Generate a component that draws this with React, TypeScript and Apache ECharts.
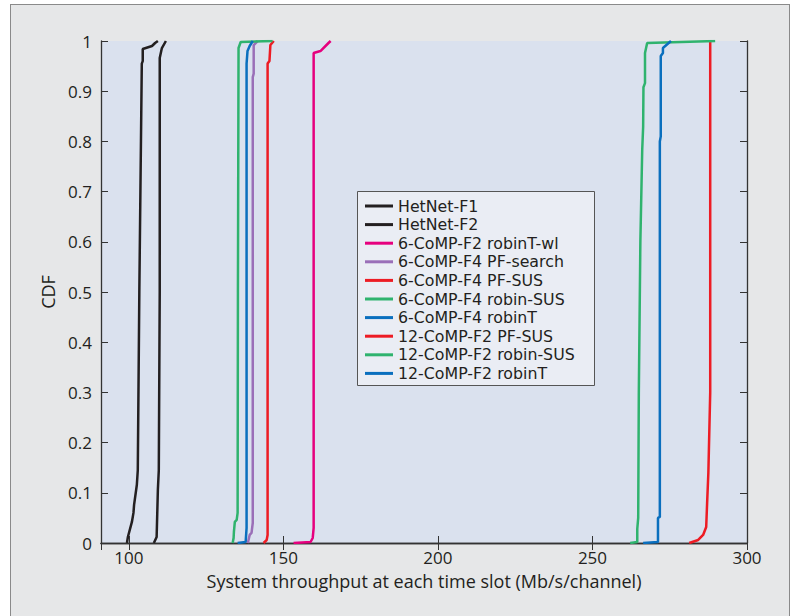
import React, { useEffect, useRef } from "react";
import * as echarts from "echarts";

// ---- Data (x = throughput Mb/s/channel, y = CDF) ----
const hetNetF1: [number, number][] = [
  [99.4, 0], [99.7, 0.012], [101.0, 0.042], [101.5, 0.06], [101.7, 0.076], [102.6, 0.116],
  [102.9, 0.145], [103.4, 0.5], [104.2, 0.955], [104.5, 0.96], [104.5, 0.984], [107.5, 0.99],
  [108.5, 0.996], [109.4, 1],
];
const hetNetF2: [number, number][] = [
  [108.1, 0], [109.0, 0.012], [109.4, 0.106], [109.7, 0.145], [110.0, 0.5], [110.0, 0.966],
  [110.7, 0.986], [112.0, 1],
];
const comp6F2RobinTwl: [number, number][] = [
  [153.3, 0], [158.8, 0.002], [159.5, 0.01], [159.8, 0.03], [159.8, 0.976], [162.0, 0.98],
  [164.6, 0.996], [165.3, 1],
];
const comp6F4PFsearch: [number, number][] = [
  [138.5, 0], [139.1, 0.016], [139.7, 0.02], [140.1, 0.04], [140.1, 0.928], [140.4, 0.935],
  [140.4, 0.992], [141.7, 1],
];
const comp6F4PFSUS: [number, number][] = [
  [143.6, 0], [144.6, 0.006], [144.9, 0.016], [144.9, 0.955], [145.5, 0.96], [145.8, 0.992],
  [146.9, 1],
];
const comp6F4RobinSUS: [number, number][] = [
  [133.6, 0], [133.9, 0.01], [134.0, 0.022], [134.3, 0.042], [134.9, 0.046], [135.2, 0.06],
  [135.3, 0.5], [135.5, 0.986], [136.2, 0.998], [146.5, 1],
];
const comp6F4RobinT: [number, number][] = [
  [135.2, 0], [137.8, 0.002], [138.1, 0.03], [138.1, 0.955], [138.4, 0.98], [139.1, 0.99],
  [140.1, 1],
];
const comp12F2PFSUS: [number, number][] = [
  [281.3, 0], [284.2, 0.006], [285.8, 0.016], [286.8, 0.032], [287.1, 0.08], [287.5, 0.14],
  [288.1, 0.3], [288.1, 1],
];
const comp12F2RobinSUS: [number, number][] = [
  [262.2, 0], [264.5, 0.002], [264.5, 0.028], [264.8, 0.05], [265.0, 0.3], [265.5, 0.6],
  [266.1, 0.783], [266.4, 0.829], [266.5, 0.908], [267.0, 0.916], [267.0, 0.976],
  [267.7, 0.996], [289.7, 1],
];
const comp12F2RobinT: [number, number][] = [
  [266.4, 0], [271.2, 0.002], [271.2, 0.05], [271.8, 0.052], [271.8, 0.8], [272.1, 0.81],
  [272.1, 0.97], [272.8, 0.976], [272.8, 0.986], [275.4, 1],
];

const seriesNames = [
  "HetNet-F1",
  "HetNet-F2",
  "6-CoMP-F2 robinT-wl",
  "6-CoMP-F4 PF-search",
  "6-CoMP-F4 PF-SUS",
  "6-CoMP-F4 robin-SUS",
  "6-CoMP-F4 robinT",
  "12-CoMP-F2 PF-SUS",
  "12-CoMP-F2 robin-SUS",
  "12-CoMP-F2 robinT",
];
const seriesData = [
  hetNetF1, hetNetF2, comp6F2RobinTwl, comp6F4PFsearch, comp6F4PFSUS,
  comp6F4RobinSUS, comp6F4RobinT, comp12F2PFSUS, comp12F2RobinSUS, comp12F2RobinT,
];
const seriesColors = [
  "#231f20", "#231f20", "#e6007e", "#9a6fb8", "#ed1c24",
  "#2fb36e", "#0a6fbe", "#ed1c24", "#2fb36e", "#0a6fbe",
];

const xMin = 91;
const xMax = 300;
const FONT = "Open Sans";
const LEGEND_FONT = "DejaVu Sans";
const TXT = "#231f20";
const AX = "#333333";

export default function App() {
  const ref = useRef<HTMLDivElement>(null);
  useEffect(() => {
    if (!ref.current) return;
    const chart = echarts.init(ref.current, null, { renderer: "svg", width: 803, height: 616 });
    const axisLine = { show: true, lineStyle: { color: AX, width: 1.3 } };
    const tick = { show: true, inside: true, length: 7, lineStyle: { color: AX, width: 1 } };
    chart.setOption({
      animation: false,
      textStyle: { fontFamily: FONT },
      grid: {
        left: 101, right: 56, top: 41, bottom: 73,
        show: true, backgroundColor: "#dae1ee", borderWidth: 0,
      },
      xAxis: [
        {
          type: "value", min: xMin, max: xMax, position: "bottom",
          axisLine, axisTick: tick, splitLine: { show: false },
          axisLabel: { showMinLabel: false, color: TXT, fontSize: 17, fontFamily: FONT, margin: 6 },
          name: "System throughput at each time slot (Mb/s/channel)",
          nameLocation: "middle", nameGap: 29,
          nameTextStyle: { color: TXT, fontSize: 18, fontFamily: FONT },
        },
        {
          type: "value", min: xMin, max: xMax, position: "top",
          axisLine, axisTick: tick, splitLine: { show: false }, axisLabel: { show: false },
        },
      ],
      yAxis: [
        {
          type: "value", min: 0, max: 1, interval: 0.1, position: "left",
          axisLine, axisTick: tick, splitLine: { show: false },
          axisLabel: { color: TXT, fontSize: 17, fontFamily: FONT, margin: 9 },
          name: "CDF", nameLocation: "middle", nameGap: 43,
          nameTextStyle: { color: TXT, fontSize: 18, fontFamily: FONT },
        },
        {
          type: "value", min: 0, max: 1, interval: 0.1, position: "right",
          axisLine, axisTick: tick, splitLine: { show: false }, axisLabel: { show: false },
        },
      ],
      legend: {
        orient: "vertical", left: 365, top: 196.7, padding: 0, itemGap: 0,
        icon: "rect", itemWidth: 28, itemHeight: 3,
        data: seriesNames,
        textStyle: { color: TXT, fontSize: 15.8, fontFamily: LEGEND_FONT, lineHeight: 18.6, padding: [0, 0, 0, 0] },
        z: 5,
      },
      graphic: [
        {
          type: "rect", z: 3,
          shape: { x: 357.5, y: 191.5, width: 237, height: 194 },
          style: { fill: "#eaedf4", stroke: "#555555", lineWidth: 1 },
        },
      ],
      series: seriesNames.map((name, i) => ({
        name, type: "line", data: seriesData[i], xAxisIndex: 0, yAxisIndex: 0,
        symbol: "none", showSymbol: false,
        lineStyle: { color: seriesColors[i], width: 2.5 },
        itemStyle: { color: seriesColors[i] },
        z: 2,
      })),
    });
    return () => chart.dispose();
  }, []);
  return (
    <div style={{ position: "fixed", left: 0, top: 0, width: 803, height: 616, background: "#ffffff", overflow: "hidden" }}>
      <div style={{ position: "absolute", left: 10, top: 4, width: 780, height: 660, background: "#e6e7e8", border: "1.5px solid #8a8a8a", boxSizing: "border-box" }} />
      <div ref={ref} style={{ position: "absolute", left: 0, top: 0, width: 803, height: 616 }} />
    </div>
  );
}
